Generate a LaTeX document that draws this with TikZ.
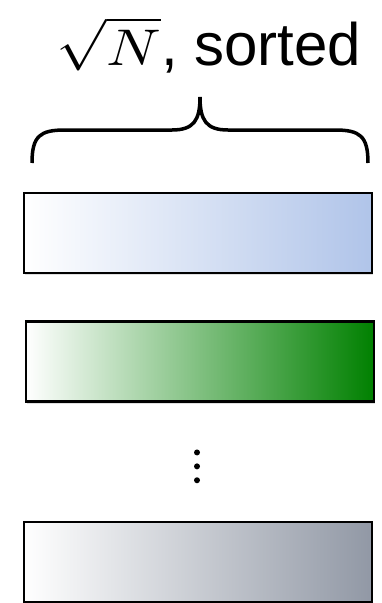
\documentclass[tikz,border=0pt]{standalone}
\usepackage{fontspec}
\usepackage{unicode-math}
\setmainfont{Liberation Sans}
\usetikzlibrary{positioning, shadows}
\definecolor{sortblue}{RGB}{176,196,233}
\definecolor{sortgreen}{RGB}{0,128,0}
\definecolor{sortgray}{RGB}{145,152,165}

\begin{document}
\begin{tikzpicture}[x=1pt, y=-1pt]
    \tikzstyle{run} = [rectangle, draw, line width=2.5pt, minimum width=348pt, minimum height=80pt, left color=white, drop shadow={shadow xshift=1pt, shadow yshift=-2pt, opacity=0.25}]
    \tikzstyle{dot} = [circle, fill, inner sep=0pt, minimum size=6pt]
    \useasboundingbox (0,0) rectangle (382,603);

    \node [anchor=base, inner sep=0pt, font=\fontsize{60}{64}\selectfont] (label) at (209,65) {\scalebox{1}[0.86]{$\sqrt{N}$}, sorted};
    \draw [line width=3.5pt] (32,163) .. controls (32,136) and (40,130) .. (65,130) -- (172,130)
        .. controls (194,130) and (200,120) .. (200,97)
        .. controls (200,120) and (206,130) .. (228,130) -- (335,130)
        .. controls (360,130) and (368,136) .. (368,163);

    \node [run, right color=sortblue] (runa) at (198,233) {};
    \node [run, right color=sortgreen, below=46pt of runa, xshift=2pt] (runb) {};
    \node [dot, below=46.5pt of runb, xshift=-3pt] (dota) {};
    \node [dot, below=7.5pt of dota] (dotb) {};
    \node [dot, below=7.5pt of dotb] (dotc) {};
    \node [run, right color=sortgray, below=37.5pt of dotc, xshift=1pt] (runc) {};
\end{tikzpicture}
\end{document}
